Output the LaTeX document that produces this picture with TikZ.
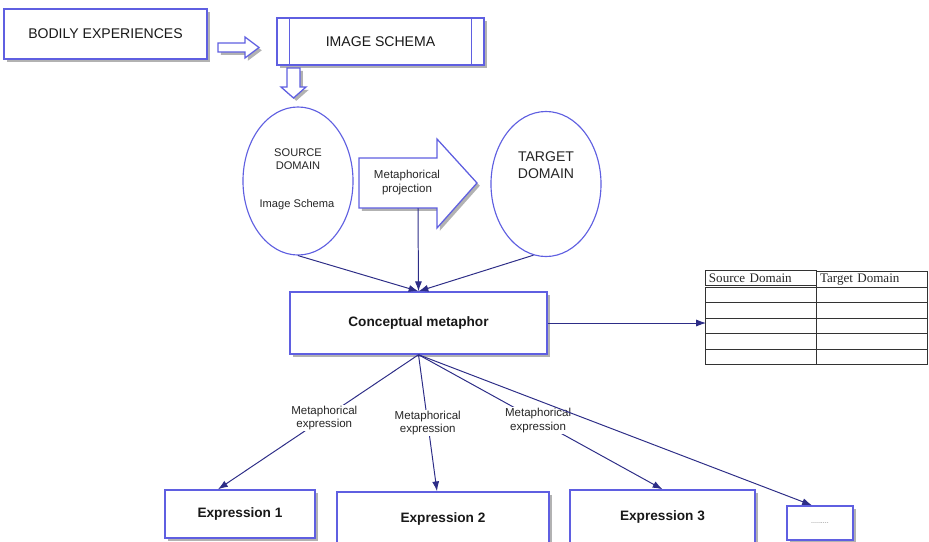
\documentclass[tikz,border=0pt]{standalone}
\usepackage{fontspec}
\setmainfont{Liberation Sans}
\newfontfamily\tabfont{Liberation Serif}
\usetikzlibrary{matrix,shapes.geometric,arrows.meta,positioning,shadows}

\definecolor{boxblue}{RGB}{95,95,225}
\definecolor{linkblue}{RGB}{45,45,135}
\definecolor{shade}{RGB}{178,178,178}

\tikzset{
  shade/.style={drop shadow={shadow xshift=0.07cm, shadow yshift=-0.07cm, fill=shade, opacity=1}},
  box/.style={draw=boxblue, line width=1pt, fill=white, shade, text=black!90, inner sep=0pt,
    font=\fontsize{10}{12}\selectfont},
  boldbox/.style={box, font=\fontsize{9.7}{12}\selectfont\bfseries},
  oval/.style={ellipse, draw=boxblue, line width=0.8pt, fill=white, inner sep=0pt,
    minimum width=2.75cm},
  hollow/.style={draw=boxblue, line width=0.9pt, fill=white, shade},
  link/.style={draw=linkblue, line width=0.7pt, -{Latex[length=7pt,width=5pt]}},
  lbl/.style={fill=white, inner sep=1pt, align=center, text=black!85,
    font=\fontsize{8.2}{9.5}\selectfont},
}

\begin{document}
\begin{tikzpicture}[x=0.025cm, y=-0.025cm]
  \useasboundingbox (0,0) rectangle (929,541);

  \node[box, minimum width=5.075cm, minimum height=1.25cm] (body) at (105.5,34) {BODILY EXPERIENCES};
  \node[box, minimum width=5.175cm, minimum height=1.175cm] (img) at (380.5,41.5) {IMAGE SCHEMA};
  \draw[boxblue, line width=1pt] ([xshift=0.325cm]img.north west) -- ([xshift=0.325cm]img.south west);
  \draw[boxblue, line width=1pt] ([xshift=-0.325cm]img.north east) -- ([xshift=-0.325cm]img.south east);

  \draw[hollow] (218,43) -- (245,43) -- (245,37) -- (259,47.5) -- (245,58) -- (245,52) -- (218,52) -- cycle;
  \draw[hollow] (287,68) -- (300,68) -- (300,87) -- (306,87) -- (293.5,98) -- (281,87) -- (287,87) -- cycle;

  \node[oval, minimum height=3.7cm] (src) at (298,181) {};
  \node[lbl, fill=none, font=\fontsize{7.9}{9.2}\selectfont] (srcname) at (298,159) {SOURCE\\DOMAIN};
  \node[lbl, fill=none, font=\fontsize{7.9}{9.2}\selectfont] (srcschema) at (297,205) {Image Schema};
  \node[oval, minimum height=3.625cm] (tgt) at (546,184) {};
  \node[lbl, fill=none, font=\fontsize{10}{12}\selectfont] (tgtname) at (546,165.5) {TARGET\\DOMAIN};

  \draw[hollow] (359,158) -- (437,158) -- (437,139) -- (477,183) -- (437,228) -- (437,208) -- (359,208) -- cycle;
  \node[lbl, fill=none] (proj) at (407,182.5) {Metaphorical\\projection};
  \coordinate (projfoot) at (418,208);

  \node[boldbox, minimum width=6.425cm, minimum height=1.55cm] (concept) at (418.5,323) {Conceptual metaphor};

  \matrix (tbl) [matrix of nodes, nodes in empty cells, row sep=-0.6pt, column sep=-0.6pt,
    nodes={draw=black!80, line width=0.6pt, text width=2.6cm, inner xsep=0.0875cm, inner ysep=0pt,
      minimum height=0.3875cm, align=left, font=\tabfont\fontsize{9.3}{10}\selectfont, text=black!85}]
    at (816.5,317.5) {
    Source Domain & Target Domain \\
    & \\
    & \\
    & \\
    & \\
    & \\
  };

  \node[boldbox, minimum width=3.75cm, minimum height=1.2cm] (exp1) at (240,514) {Expression 1};
  \node[boldbox, minimum width=5.3cm, minimum height=1.35cm] (exp2) at (443,519) {Expression 2};
  \node[boldbox, minimum width=4.625cm, minimum height=1.35cm] (exp3) at (662.5,517) {Expression 3};
  \node[box, minimum width=1.65cm, minimum height=0.85cm, font=\fontsize{5}{6}\selectfont, text=black!55] (more) at (820,523) {.........};

  \draw[link] (src.south) to (concept.north);
  \draw[link] (projfoot) to (concept.north);
  \draw[link] (tgt.260) to (concept.north);
  \draw[link] (concept) to ([xshift=0.15cm]concept -| tbl.west);

  \draw[link] (concept.south) to node [lbl, pos=.47] {Metaphorical\\expression} ([xshift=-0.55cm]exp1.north);
  \draw[link] (concept.south) to node [lbl, pos=.5] {Metaphorical\\expression} ([xshift=-0.15cm]exp2.north);
  \draw[link] (concept.south) to node [lbl, pos=.49] {Metaphorical\\expression} (exp3.north);
  \draw[link] (concept.south) to ([xshift=-0.2cm]more.north);
\end{tikzpicture}
\end{document}
